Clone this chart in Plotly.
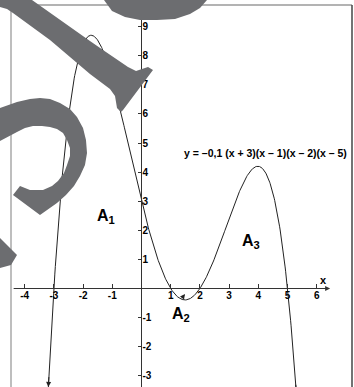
import numpy as np
import plotly.graph_objects as go

# ---- data ----
coef = -0.1
roots = [-3, 1, 2, 5]
x_start, x_end = -3.19, 5.31
x_ticks = [-4, -3, -2, -1, 1, 2, 3, 4, 5, 6]
x_ticktext = ["-4", "-3", "-2", "-1", "1", "2", "3", "4", "5", "6"]
y_ticks = [-3, -2, -1, 1, 2, 3, 4, 5, 6, 7, 8, 9]
y_ticktext = ["-3", "-2", "-1", "1", "2", "3", "4", "5", "6", "7", "8", "9"]
equation = "y = \u20130,1 (x + 3)(x \u2013 1)(x \u2013 2)(x \u2013 5)"
area_labels = ["A<sub>1</sub>", "A<sub>2</sub>", "A<sub>3</sub>"]
area_x = [-1.22, 1.35, 3.75]
area_y = [2.46, -0.91, 1.6]

W, H = 354, 387
XR = [-4.846, 7.277]
YR = [-3.385, 9.914]


def f(x):
    y = coef * np.ones_like(x)
    for r in roots:
        y = y * (x - r)
    return y


xs = np.linspace(x_start, x_end, 500)
ys = f(xs)

FONT = "Liberation Sans, Arial, sans-serif"
AX = "#333333"

fig = go.Figure()
fig.add_trace(go.Scatter(x=xs, y=ys, mode="lines",
                         line=dict(color="#222222", width=1), hoverinfo="skip"))


def pp(px, py):
    return px / W, 1 - py / H


def path(pts):
    s = ""
    for i, (a, b) in enumerate(pts):
        u, v = pp(a, b)
        s += ("M" if i == 0 else "L") + f"{u:.4f},{v:.4f} "
    return s + "Z"


shapes = []
# frame lines
for (a, b, c, d, col) in [(11, 5, 11, 387, "#a8a8a8"), (11, 5, 352, 5, "#9a9a9a"),
                          (352, 5, 352, 387, "#444444")]:
    u1, v1 = pp(a, b)
    u2, v2 = pp(c, d)
    shapes.append(dict(type="line", xref="paper", yref="paper", x0=u1, y0=v1,
                       x1=u2, y1=v2, line=dict(color=col, width=1.5), layer="below"))
# y axis line
shapes.append(dict(type="line", xref="x", yref="y", x0=0, x1=0, y0=YR[0], y1=YR[1],
                   line=dict(color=AX, width=1)))

# watermark-like grey strokes
GREY = "#6c6d70"
diag = [(0, 0), (32, 0), (90, 41), (103, 50), (128, 67), (136, 71), (142, 69), (148, 67),
        (153, 70), (123, 110), (121, 112), (117, 108), (115, 96), (110, 89), (90, 74),
        (50, 40), (13, 13), (7, 9), (0, 7)]
cshape = [(0, 108), (17, 102), (30, 99), (40, 98), (50, 99), (60, 103), (70, 109),
          (77, 117), (83, 128), (86, 140), (87, 153), (85, 165), (80, 176), (74, 186),
          (66, 195), (57, 203), (40, 215), (13, 195), (20, 186), (30, 190), (43, 190),
          (52, 186), (58, 181), (64, 173), (67, 165), (70, 156), (70, 148), (67, 140),
          (63, 133), (57, 129), (50, 127), (42, 126), (33, 126), (25, 128), (17, 132),
          (0, 141)]
blob = [(104, 0), (112, 11), (125, 17), (140, 20), (157, 20), (175, 19), (190, 14),
        (200, 8), (207, 0)]
piece = [(0, 238), (17, 255), (11, 265), (0, 268)]
for poly in (diag, cshape, blob, piece):
    shapes.append(dict(type="path", xref="paper", yref="paper", path=path(poly),
                       fillcolor=GREY, line=dict(width=0), layer="above"))

ann = []
# x axis with arrow
ann.append(dict(x=6.46, y=0, ax=-4.43, ay=0, axref="x", ayref="y", xref="x", yref="y",
                text="", showarrow=True, arrowhead=2, arrowsize=1, arrowwidth=1,
                arrowcolor=AX))
ann.append(dict(x=6.22, y=0.3, text="<b>x</b>", showarrow=False,
                font=dict(family=FONT, size=11, color="black")))
# curve end arrows
for xe, xb in [(x_start, x_start + 0.02), (x_end, x_end - 0.03)]:
    ann.append(dict(x=xe, y=float(f(np.array([xe]))[0]), ax=xb,
                    ay=float(f(np.array([xb]))[0]), axref="x", ayref="y",
                    xref="x", yref="y", text="", showarrow=True, arrowhead=2,
                    arrowsize=1, arrowwidth=1, arrowcolor="#222222"))
# area labels
for t, ax_, ay_ in zip(area_labels, area_x, area_y):
    ann.append(dict(x=ax_, y=ay_, text=f"<b>{t}</b>", showarrow=False,
                    font=dict(family=FONT, size=16, color="black")))
# A2 arrow
ann.append(dict(x=1.49, y=-0.19, ax=1.34, ay=-0.39, axref="x", ayref="y",
                xref="x", yref="y", text="", showarrow=True, arrowhead=2,
                arrowsize=1, arrowwidth=1, arrowcolor="#222222"))
# equation
ann.append(dict(x=1.39, y=4.66, text=f"<b>{equation}</b>", showarrow=False,
                xanchor="left", font=dict(family=FONT, size=10.5, color="black")))

xpos = (0 - YR[0]) / (YR[1] - YR[0])
ypos = (0 - XR[0]) / (XR[1] - XR[0])
tickfont = dict(family=FONT, size=10, color="black", weight="bold")

fig.update_layout(
    width=W, height=H, autosize=False,
    margin=dict(l=0, r=0, t=0, b=0, pad=0),
    paper_bgcolor="white", plot_bgcolor="white", showlegend=False,
    xaxis=dict(range=XR, showgrid=False, zeroline=False, showline=False,
               anchor="free", position=xpos, tickvals=x_ticks, ticktext=x_ticktext,
               ticks="inside", ticklen=4, tickcolor=AX, tickwidth=1,
               tickfont=tickfont, fixedrange=True, automargin=False),
    yaxis=dict(range=YR, showgrid=False, zeroline=False, showline=False,
               anchor="free", position=ypos, side="right", tickvals=y_ticks,
               ticktext=y_ticktext, ticks="inside", ticklen=4, tickcolor=AX,
               tickwidth=1, tickfont=tickfont, fixedrange=True, automargin=False),
    shapes=shapes, annotations=ann,
)

fig.write_html("out.html", config={"displayModeBar": False},
               post_script="document.body.style.margin='0';"
                           "document.body.style.overflow='hidden';")
